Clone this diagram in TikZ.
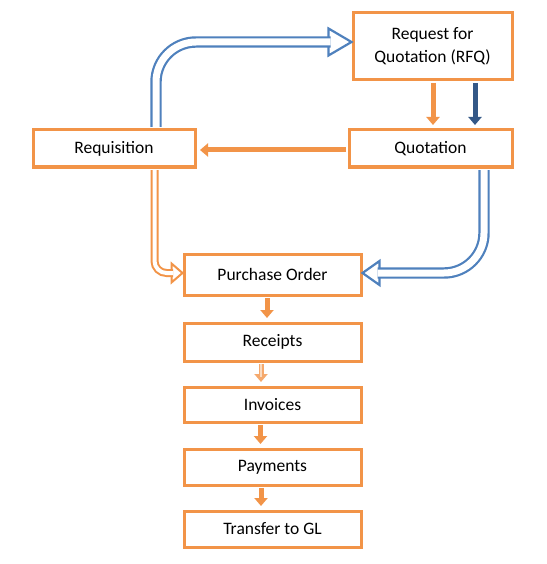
\documentclass[tikz,border=0pt]{standalone}
\usepackage{fontspec}
\setmainfont{Carlito}
\usetikzlibrary{arrows.meta,calc}
\definecolor{orng}{RGB}{242,148,72}
\definecolor{blu}{RGB}{79,129,189}
\definecolor{dblu}{RGB}{52,88,135}
\begin{document}
\begin{tikzpicture}[x=1pt,y=-1pt,
  box/.style={draw=orng,line width=3pt,fill=white,inner sep=0pt,align=center,
    font=\fontsize{17.5}{23}\selectfont},
  oarr/.style={draw=orng,line width=5pt,-{Triangle[length=8pt,width=13pt]},shorten >=2pt},
  darr/.style={draw=dblu,line width=5pt,-{Triangle[length=8pt,width=13pt]},shorten >=2pt},
  bshaft/.style={draw=blu,line width=2.2pt,double=white,double distance=7pt,rounded corners=40pt},
  bhead/.style={draw=blu,line width=2.2pt,fill=white,line join=miter},
  oshaft/.style={draw=orng,line width=2pt,double=white,double distance=4pt,rounded corners=12pt},
  ohead/.style={draw=orng,line width=2pt,fill=white,line join=miter}]
\useasboundingbox[fill=white] (0,0) rectangle (546,564);

\node[box,minimum width=159pt,minimum height=67pt] (rfq) at (432.5,46.5) {Request for\\Quotation (RFQ)};
\node[box,minimum width=163pt,minimum height=37pt] (quo) at (430.5,148.5) {Quotation};
\node[box,minimum width=162pt,minimum height=37pt] (req) at (114,148.5) {Requisition};
\node[box,minimum width=177pt,minimum height=41pt] (po) at (272.5,274.5) {Purchase Order};
\node[box,minimum width=177pt,minimum height=38pt] (rec) at (272.5,342) {Receipts};
\node[box,minimum width=177pt,minimum height=35pt] (inv) at (272.5,404.5) {Invoices};
\node[box,minimum width=177pt,minimum height=36pt] (pay) at (272.5,467) {Payments};
\node[box,minimum width=177pt,minimum height=36pt] (gl) at (272.5,529) {Transfer to GL};

% RFQ -> Quotation
\draw[oarr] ($(rfq.south)+(0.5,1.5)$) -- ($(quo.north)+(2.5,-1.5)$);
\draw[darr] ($(rfq.south)+(42.5,1.5)$) -- ($(quo.north)+(44.5,-1.5)$);
% Quotation -> Requisition
\draw[oarr] ($(quo.west)+(-1.5,1.5)$) -- ($(req.east)+(1.5,1.5)$);

% Requisition -> RFQ (hollow blue)
\draw[bhead] ($(rfq.west)+(-23,-18)$) -- ($(rfq.west)+(0,-4.5)$) -- ($(rfq.west)+(-23,9)$) -- cycle;
\draw[bshaft] ($(req.north)+(42,-1.5)$) |- ($(rfq.west)+(-21,-4.5)$);

% Quotation -> Purchase Order (hollow blue)
\draw[bhead] ($(po.east)+(17,-13.5)$) -- ($(po.east)+(0,-1.5)$) -- ($(po.east)+(17,10.5)$) -- cycle;
\draw[bshaft] ($(quo.south)+(53.5,1.5)$) |- ($(po.east)+(15,-1.5)$);

% Requisition -> Purchase Order (hollow orange)
\draw[ohead] ($(po.west)+(-11,-11)$) -- ($(po.west)+(0,-1.5)$) -- ($(po.west)+(-11,8)$) -- cycle;
\draw[oshaft] ($(req.south)+(40.5,1.5)$) |- ($(po.west)+(-9.5,-1.5)$);

% chain
\draw[oarr] ($(po.south)+(-5.5,1.5)$) -- ($(rec.north)+(-5.5,-1.5)$);
\draw[oarr,draw=orng!80] ($(rec.south)+(-11.5,1.5)$) -- ($(inv.north)+(-11.5,-1.5)$);
\draw[orng!35,line width=1.5pt] ($(rec.south)+(-11.5,1.5)$) -- ($(inv.north)+(-11.5,-9)$);
\draw[oarr] ($(inv.south)+(-12,1.5)$) -- ($(pay.north)+(-12,-1.5)$);
\draw[oarr] ($(pay.south)+(-11.5,1.5)$) -- ($(gl.north)+(-11.5,-1.5)$);
\end{tikzpicture}
\end{document}
